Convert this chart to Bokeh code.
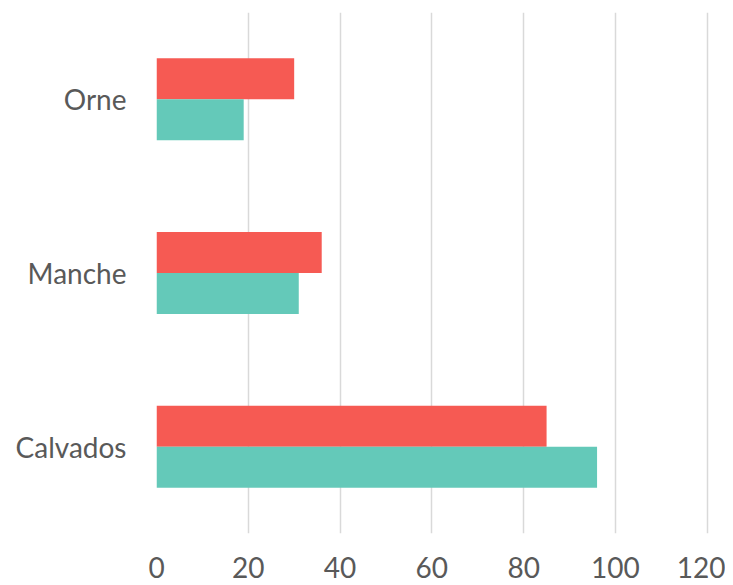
from bokeh.plotting import figure
from bokeh.models import FactorRange, Range1d, ColumnDataSource
from bokeh.transform import dodge
from bokeh.embed import file_html
from bokeh.resources import INLINE

categories = ["Calvados", "Manche", "Orne"]
series_red = [85, 36, 30]
series_teal = [96, 31, 19]
x_ticks = [0, 20, 40, 60, 80, 100, 120]

src = ColumnDataSource(dict(cat=categories, red=series_red, teal=series_teal))

p = figure(width=725, height=585, output_backend="svg", toolbar_location=None,
           y_range=FactorRange(*categories, range_padding=0), x_range=Range1d(0, 120.5),
           min_border_left=156, min_border_right=16, min_border_top=12, min_border_bottom=52)
p.outline_line_color = None

p.hbar(y=dodge("cat", 0.118, range=p.y_range), right="red", left=0, height=0.236,
       source=src, fill_color="#F65A53", line_color=None)
p.hbar(y=dodge("cat", -0.118, range=p.y_range), right="teal", left=0, height=0.236,
       source=src, fill_color="#64C9B9", line_color=None)

p.xaxis.ticker = x_ticks
p.xgrid.grid_line_color = "#D9D9D9"
p.xgrid.grid_line_width = 1.5
p.ygrid.grid_line_color = None
p.grid.level = "underlay"

for ax in (p.xaxis[0], p.yaxis[0]):
    ax.axis_line_color = None
    ax.major_tick_line_color = None
    ax.minor_tick_line_color = None
    ax.major_label_text_font = "Lato"
    ax.major_label_text_font_size = "28px"
    ax.major_label_text_color = "#595959"

p.xaxis.major_label_standoff = 17
p.yaxis.major_label_standoff = 24

open("out.html", "w").write(file_html(p, INLINE))
